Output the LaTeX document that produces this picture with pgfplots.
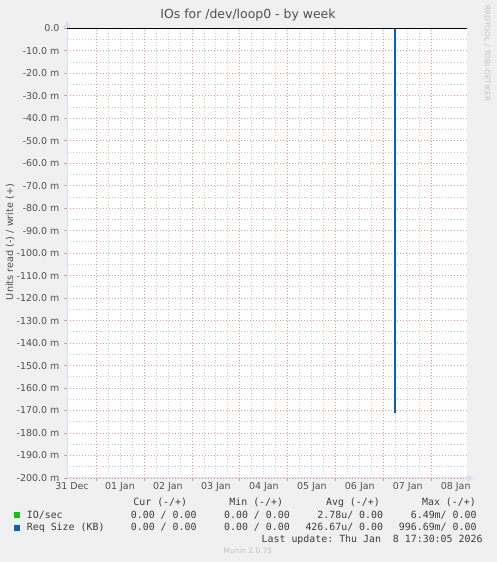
\documentclass[border=0pt]{standalone}
\usepackage{pgfplots}
\pgfplotsset{compat=1.18}
\usepackage{fontspec}
\setmainfont{DejaVu Sans}
\setmonofont{DejaVu Sans Mono}
\usetikzlibrary{arrows.meta}
\definecolor{bg}{RGB}{240,240,240}
\definecolor{axisc}{RGB}{218,218,255}
\definecolor{gridred}{RGB}{235,150,150}
\definecolor{gridgray}{RGB}{200,200,200}
\definecolor{txt}{RGB}{80,80,80}
\definecolor{leg}{RGB}{60,60,60}
\definecolor{faint}{RGB}{195,195,195}
\definecolor{mgreen}{RGB}{0,204,0}
\definecolor{mblue}{RGB}{0,102,179}
\begin{document}
\begin{tikzpicture}[x=1bp,y=1bp]
\fill[bg] (0,0) rectangle (497,562);
\begin{axis}[
  at={(67bp,84bp)}, anchor=south west,
  scale only axis, width=399.7bp, height=449.7bp,
  xmin=-0.604, xmax=7.729, ymin=-200, ymax=0,
  clip=false,
  axis background/.style={fill=white},
  axis lines=left,
  axis line style={draw=axisc, line width=1bp, -{Triangle[width=7bp,length=6bp]}, shorten >=-7bp},
  ytick={-200,-190,...,0},
  yticklabels={-200.0 m,-190.0 m,-180.0 m,-170.0 m,-160.0 m,-150.0 m,-140.0 m,-130.0 m,-120.0 m,-110.0 m,-100.0 m,-90.0 m,-80.0 m,-70.0 m,-60.0 m,-50.0 m,-40.0 m,-30.0 m,-20.0 m,-10.0 m,0.0},
  xtick={0,1,2,3,4,5,6,7},
  xticklabels={},
  extra x ticks={-0.5,0.5,1.5,2.5,3.5,4.5,5.5,6.5,7.5},
  extra x tick labels={31 Dec,01 Jan,02 Jan,03 Jan,04 Jan,05 Jan,06 Jan,07 Jan,08 Jan},
  extra x tick style={grid=none, major tick length=0pt},
  minor y tick num=1,
  minor x tick num=3,
  grid=both,
  major grid style={draw=gridred, line width=0.8bp, dash pattern=on 1bp off 2bp},
  minor grid style={draw=gridgray, line width=0.8bp, dash pattern=on 1bp off 2bp},
  tick align=outside,
  major tick length=3bp, minor tick length=0bp,
  every tick/.style={draw=gridred, line width=0.8bp},
  tick label style={font=\fontsize{9.5}{11}\selectfont, text=txt},
  yticklabel style={xshift=-1bp},
  xticklabel style={yshift=-1bp},
  title={IOs for /dev/loop0 - by week},
  title style={font=\fontsize{12.5}{14}\selectfont, text=txt, at={(axis description cs:0.4528,1.0078)}, anchor=base},
  ylabel={Units read (-) / write (+)},
  ylabel style={font=\fontsize{9.7}{12}\selectfont, text=txt, at={(axis description cs:-0.1426,0.5248)}, anchor=center},
]
\addplot[mgreen, line width=1bp] coordinates {(-0.604,0) (6.225,0) (6.225,-6.49) (6.245,-6.49) (6.245,0) (7.729,0)};
\addplot[mblue, line width=1bp] coordinates {(-0.604,0) (6.225,0) (6.225,-171) (6.245,-171) (6.245,0) (7.729,0)};
\addplot[black, line width=1bp] coordinates {(-0.604,0) (7.729,0)};
\end{axis}
% right credit
\node[rotate=-90, anchor=west, inner sep=0, text=faint, font=\fontsize{7.5}{9}\selectfont] at (487.3,557) {RRDTOOL / TOBI OETIKER};
% legend
\begin{scope}[every node/.style={inner sep=0, text=leg, font=\ttfamily\fontsize{9.95}{11}\selectfont}]
\node[anchor=base east] at (187.3,56) {Cur (-/+)};
\node[anchor=base east] at (283.3,56) {Min (-/+)};
\node[anchor=base east] at (380,56) {Avg (-/+)};
\node[anchor=base east] at (476,56) {Max (-/+)};
\fill[mgreen] (14,43.5) rectangle (20,49.5);
\node[anchor=base west] at (26.7,43.7) {IO/sec};
\node[anchor=base east] at (196.7,43.7) {0.00 / 0.00};
\node[anchor=base east] at (290,43.7) {0.00 / 0.00};
\node[anchor=base east] at (383.3,43.7) {2.78u/ 0.00};
\node[anchor=base east] at (476.7,43.7) {6.49m/ 0.00};
\fill[mblue] (14,31.3) rectangle (20,37.3);
\node[anchor=base west] at (26.7,31.4) {Req Size (KB)};
\node[anchor=base east] at (196.7,31.4) {0.00 / 0.00};
\node[anchor=base east] at (290,31.4) {0.00 / 0.00};
\node[anchor=base east] at (383.3,31.4) {426.67u/ 0.00};
\node[anchor=base east] at (476.7,31.4) {996.69m/ 0.00};
\node[anchor=base east] at (482.7,19.4) {Last update: Thu Jan~~8 17:30:05 2026};
\end{scope}
\node[anchor=base, inner sep=0, text=faint, font=\fontsize{7.5}{9}\selectfont] at (247.8,8.8) {Munin 2.0.75};
\end{tikzpicture}
\end{document}
